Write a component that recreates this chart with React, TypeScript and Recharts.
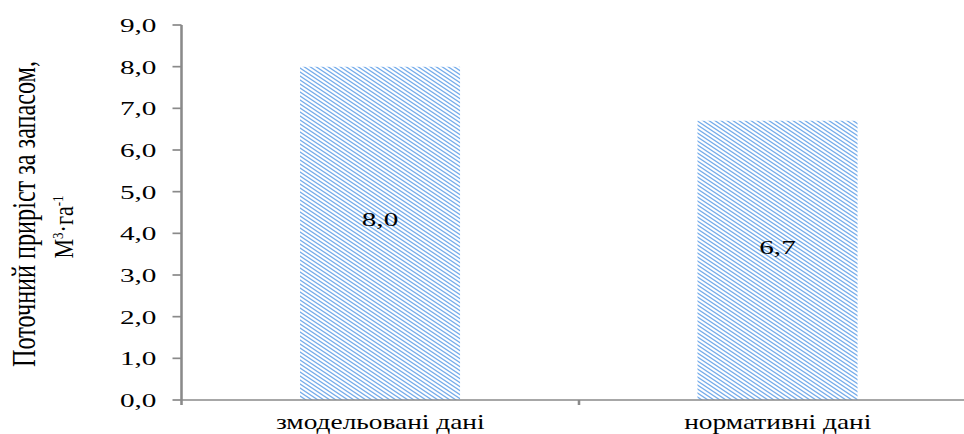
import React from 'react';
import { BarChart, Bar, XAxis, YAxis, LabelList, Label } from 'recharts';

const categories = ['змодельовані дані', 'нормативні дані'];
const values = [8.0, 6.7];
const yTicks = [0, 1, 2, 3, 4, 5, 6, 7, 8, 9];
const titleLine1 = 'Поточний приріст за запасом,';
const titleLine2Parts = ['М', '3', '·га', '-1'];

const data = categories.map((c, i) => ({ name: c, value: values[i] }));

const FONT = "'Liberation Serif', 'Times New Roman', serif";
const SX = 1.5;
const AXIS = '#8a8a8a';

const fmt = (v: number) => v.toFixed(1).replace('.', ',');

const XTick = (props: any) => {
  const { x, y, payload, index } = props;
  const half = payload.offset || 0;
  const axisY = y - 5 - 22;
  return (
    <g>
      <line x1={x - half} x2={x - half} y1={axisY} y2={axisY + 5} stroke={AXIS} strokeWidth={1.7} />
      {index === categories.length - 1 && (
        <line x1={x + half} x2={x + half} y1={axisY} y2={axisY + 5} stroke={AXIS} strokeWidth={1.7} />
      )}
      <text
        transform={`translate(${x},${axisY + 28.5}) scale(0.83,1)`}
        x={0}
        y={0}
        textAnchor="middle"
        fontFamily={FONT}
        fontSize={22}
        fill="#000"
      >
        {payload.value}
      </text>
    </g>
  );
};

const renderTitle = () => (
  <g>
    <text
      transform="translate(23.5,214) rotate(-90) scale(1,0.92)"
      x={0}
      y={0}
      textAnchor="middle"
      fontFamily={FONT}
      fontSize={24.2}
      fill="#000"
    >
      {titleLine1}
    </text>
    <text
      transform="translate(48.7,227) rotate(-90) scale(1,0.8)"
      x={0}
      y={0}
      textAnchor="middle"
      fontFamily={FONT}
      fontSize={22}
      fill="#000"
    >
      {titleLine2Parts[0]}
      <tspan fontSize={13} dy={-8}>{titleLine2Parts[1]}</tspan>
      <tspan dy={8}>{titleLine2Parts[2]}</tspan>
      <tspan fontSize={13} dy={-8}>{titleLine2Parts[3]}</tspan>
    </text>
  </g>
);

const renderValue = (p: any) => {
  const cx = p.x + p.width / 2;
  const cy = p.y + p.height / 2 - 13.5;
  return (
    <text x={cx} y={cy + 6.6} textAnchor="middle" fontFamily={FONT} fontSize={19.5} fill="#000">
      {fmt(Number(p.value))}
    </text>
  );
};

export default function App() {
  return (
    <div style={{ position: 'absolute', left: 0, top: 0, width: 964, height: 434, overflow: 'hidden', background: '#fff' }}>
      <div style={{ transform: `scaleX(${SX})`, transformOrigin: '0 0', width: 665, height: 434 }}>
        <BarChart
          width={665}
          height={434}
          data={data}
          margin={{ top: 25, right: 14, bottom: 0, left: 0 }}
          barSize={106.7}
        >
          <defs>
            <pattern id="hatch" patternUnits="userSpaceOnUse" width={4} height={4}>
              <rect width={4} height={4} fill="#fff" />
              <path d="M-1,-1 L5,5 M-1,3 L1,5 M3,-1 L5,1" stroke="#74aceb" strokeWidth={1.1} />
            </pattern>
          </defs>
          <XAxis
            dataKey="name"
            height={34}
            axisLine={{ stroke: AXIS, strokeWidth: 1.7 }}
            tickLine={false}
            tickSize={5}
            tickMargin={22}
            tick={<XTick />}
            interval={0}
          />
          <YAxis
            width={121}
            domain={[0, 9]}
            ticks={yTicks}
            interval={0}
            tickFormatter={fmt}
            axisLine={{ stroke: AXIS, strokeWidth: 1.7 }}
            tickLine={{ stroke: AXIS, strokeWidth: 1.7 }}
            tickSize={6}
            tickMargin={10.7}
            tick={{ fill: '#000', fontSize: 19.5, fontFamily: FONT }}
          >
            <Label content={renderTitle} />
          </YAxis>
          <Bar dataKey="value" fill="url(#hatch)" isAnimationActive={false}>
            <LabelList dataKey="value" content={renderValue} />
          </Bar>
        </BarChart>
      </div>
    </div>
  );
}
